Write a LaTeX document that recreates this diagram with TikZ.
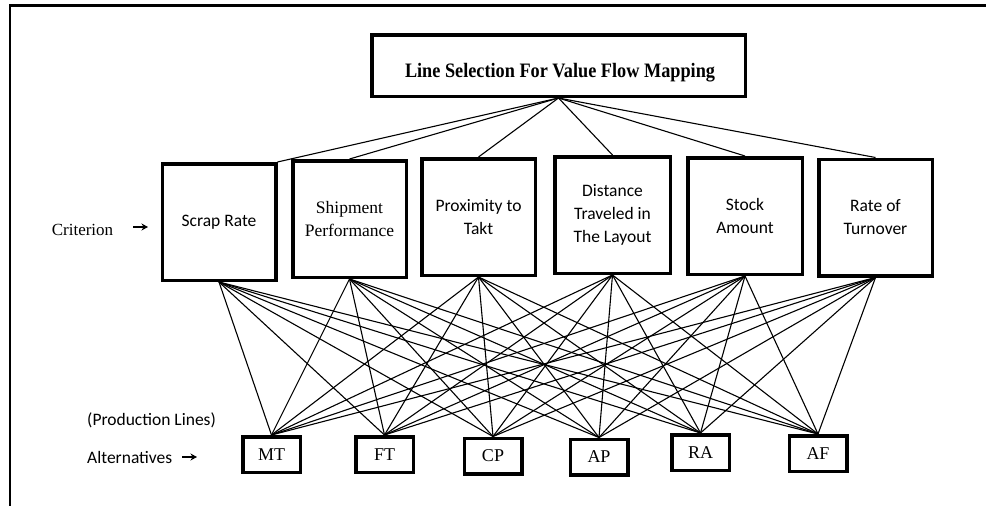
\documentclass[tikz,border=0pt]{standalone}
\usepackage{fontspec}
\setmainfont{Liberation Serif}
\newfontfamily\carlito{Carlito}
\newfontfamily\titlefont[FakeStretch=0.89]{Liberation Serif Bold}
\usetikzlibrary{arrows.meta}
\tikzset{
  critbox/.style={draw, line width=3.5pt, inner sep=0pt, align=center,
    minimum width=113.5pt, minimum height=116.5pt},
  calibritext/.style={font=\carlito\fontsize{17.5}{23}\selectfont},
  timestext/.style={font=\fontsize{17.5}{23}\selectfont},
  altbox/.style={draw, line width=3.5pt, inner sep=0pt, minimum width=57.5pt,
    minimum height=35.5pt, font=\fontsize{18}{20}\selectfont},
  link/.style={line width=1.1pt},
  lblarrow/.style={line width=1.3pt, -{Stealth[length=6.5pt,width=7pt]}},
  frameline/.style={line width=2.5pt}
}
\begin{document}
\begin{tikzpicture}[x=1pt,y=-1pt]
\useasboundingbox (0,0) rectangle (986,506);
% frame (top and left only)
\draw[frameline] (986,5.5) -- (10,5.5) -- (10,506);
% title
\node[draw, line width=3.5pt, minimum width=373.5pt, minimum height=61.5pt, inner sep=0pt]
  (title) at (558.5,65.5) {};
\node[font=\titlefont\fontsize{20.5}{24}\selectfont, inner sep=0pt] (titletxt) at (560,73)
  {Line Selection For Value Flow Mapping};
% criteria
\node[critbox, calibritext] (c1) at (219,222) {Scrap Rate};
\node[critbox, timestext] (c2) at (349.5,219) {Shipment\\Performance};
\node[critbox, calibritext] (c3) at (478.5,217) {Proximity to\\Takt};
\node[critbox, calibritext, minimum width=115.5pt] (c4) at (612.5,215) {Distance\\Traveled in\\The Layout};
\node[critbox, calibritext, minimum width=114.5pt] (c5) at (745,216) {Stock\\Amount};
\node[critbox, calibritext] (c6) at (875.5,217.5) {Rate of\\Turnover};
% alternatives
\node[altbox] (a1) at (271.5,454.5) {MT};
\node[altbox] (a2) at (384.5,454.5) {FT};
\node[altbox] (a3) at (493,456) {CP};
\node[altbox] (a4) at (599,457) {AP};
\node[altbox] (a5) at (700.5,452.5) {RA};
\node[altbox] (a6) at (818,453.5) {AF};
% labels
\node[font=\fontsize{17}{20}\selectfont, inner sep=0pt] (critlbl) at (82.5,230) {Criterion};
\coordinate (critA) at (133,227);
\coordinate (critB) at (148,227);
\draw[lblarrow] (critA) -- (critB);
\node[font=\carlito\fontsize{17.5}{20}\selectfont, inner sep=0pt, anchor=west] (prodlbl) at (87,420) {(Production Lines)};
\node[font=\carlito\fontsize{17.5}{20}\selectfont, inner sep=0pt, anchor=west] (altlbl) at (87,457) {Alternatives};
\coordinate (altA) at (182,457);
\coordinate (altB) at (197,457);
\draw[lblarrow] (altA) -- (altB);
% top links
\draw[link] (title.south) -- (c1.north east);
\foreach \c in {c2,c3,c4,c5,c6}{
  \draw[link] (title.south) -- (\c.north);
}
% bottom links
\foreach \c in {c1,c2,c3,c4,c5,c6}{
  \foreach \a in {a1,a2,a3,a4,a5,a6}{
    \draw[link] (\c.south) -- (\a.north);
  }
}
\end{tikzpicture}
\end{document}
